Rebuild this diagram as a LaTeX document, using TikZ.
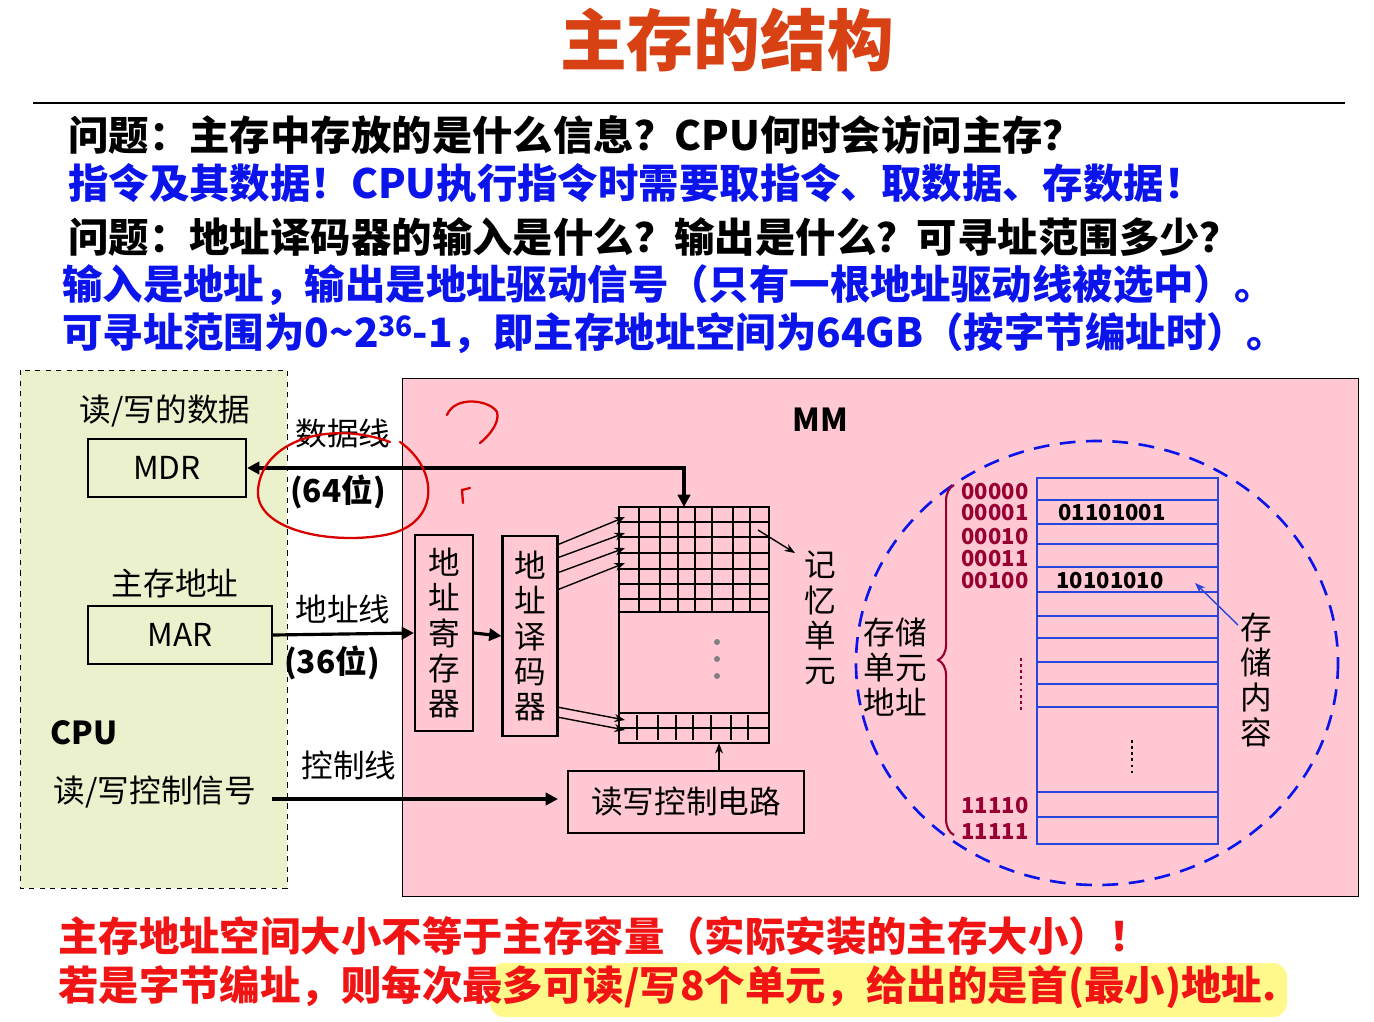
\documentclass[tikz,border=0pt]{standalone}
\usepackage{fontspec}
\setmainfont{Noto Sans CJK SC}
\usetikzlibrary{arrows.meta,decorations.pathreplacing}
\definecolor{titlered}{RGB}{215,65,20}
\definecolor{qblue}{RGB}{10,20,235}
\definecolor{cpugreen}{RGB}{236,241,205}
\definecolor{mmpink}{RGB}{255,200,210}
\definecolor{addrred}{RGB}{150,0,50}
\definecolor{warnred}{RGB}{240,20,20}
\definecolor{tblue}{RGB}{40,70,220}
\tikzset{
  big/.style={font=\fontsize{23}{26}\selectfont\bfseries, anchor=west, inner sep=0},
  lbl/.style={font=\fontsize{18}{20}\selectfont, inner sep=0},
  box/.style={draw, line width=1.2pt},
  vtext/.style={font=\fontsize{18}{20}\selectfont, align=center, inner sep=0},
  addr/.style={font=\fontsize{12.5}{13}\selectfont\bfseries, text=addrred, inner sep=0},
  wire/.style={line width=1.8pt, -{Triangle[length=7pt,width=7pt]}},
  thin/.style={line width=0.8pt, -{Stealth[length=6pt]}},
  pen/.style={red!85!black, line width=1.3pt, line cap=round},
}
\begin{document}
\begin{tikzpicture}[x=0.02cm, y=-0.02cm]
\useasboundingbox (0,0) rectangle (1374,1022);
% title
\node[font=\fontsize{38}{40}\selectfont\bfseries, text=titlered] (title) at (727,40) {主存的结构};
\draw[line width=1.5pt] (33,103) -- (1345,103);
\node[big] (q1) at (68,135) {问题：主存中存放的是什么信息？CPU何时会访问主存？};
\node[big, text=qblue] (a1) at (68,183) {指令及其数据！CPU执行指令时需要取指令、取数据、存数据！};
\node[big] (q2) at (68,237) {问题：地址译码器的输入是什么？输出是什么？可寻址范围多少？};
\node[big, text=qblue] (a2) at (62,285) {输入是地址，输出是地址驱动信号（只有一根地址驱动线被选中）。};
\node[big, text=qblue] (a3) at (62,333) {可寻址范围为0\textasciitilde2\raisebox{0.5ex}{\fontsize{16}{16}\selectfont 36}-1，即主存地址空间为64GB（按字节编址时）。};
% CPU and MM
\draw[dashed, fill=cpugreen] (20,370) rectangle (287,888);
\draw[fill=mmpink] (402,378) rectangle (1358,896);
\node[lbl] (rw) at (165,411) {读/写的数据};
\node[box, minimum width=158*0.02cm, minimum height=58*0.02cm, lbl] (mdr) at (167,468) {MDR};
\node[lbl] (ma) at (175,583) {主存地址};
\node[box, minimum width=184*0.02cm, minimum height=58*0.02cm, lbl] (mar) at (180,635) {MAR};
\node[lbl, font=\fontsize{18}{20}\selectfont\bfseries] (cpu) at (84,733) {CPU};
\node[lbl] (rwc) at (155,792) {读/写控制信号};
\node[lbl] (mm) at (820,420) {\bfseries MM};
% buses
\node[lbl] (dl) at (343,433) {数据线};
\node[lbl, font=\fontsize{18}{20}\selectfont\bfseries] (d64) at (338,492) {(64位)};
\node[lbl] (al) at (343,609) {地址线};
\node[lbl, font=\fontsize{18}{20}\selectfont\bfseries] (a36) at (332,663) {(36位)};
\node[lbl] (cl) at (349,765) {控制线};
% registers
\node[box, minimum width=58*0.02cm, minimum height=196*0.02cm, vtext] (areg) at (444,633) {地\\址\\寄\\存\\器};
\node[box, minimum width=55*0.02cm, minimum height=200*0.02cm, vtext] (adec) at (530,636) {地\\址\\译\\码\\器};
\node[box, minimum width=236*0.02cm, minimum height=62*0.02cm, lbl, inner sep=0] (rwctl) at (686,802) {读写控制电路};
% memory array
\coordinate (gtop) at (684,507);
\coordinate (gbot) at (719,743);
\draw[line width=1.2pt] (619,507) rectangle (769,743);
\draw[line width=1.2pt] (619,612) -- (769,612) (619,713) -- (769,713);
\foreach \y in {522,537,553,569,584,599} \draw[line width=0.9pt] (619,\y) -- (769,\y);
\foreach \x in {639,660,678,695,712,733,750} \draw[line width=0.9pt] (\x,507) -- (\x,612);
\draw[line width=0.9pt] (619,728) -- (769,728);
\foreach \x in {637,658,676,693,711,731,748} \draw[line width=0.9pt] (\x,715) -- (\x,740);
\foreach \y in {642,659,676} \fill[gray] (717,\y) circle (3);
\foreach \a/\b in {545/517,558/533,573/548,590/563,707/720,717/730}
  \draw[thin] (557,\a) -- (625,\b);
% connections
\draw[line width=1.8pt, {Triangle[length=7pt,width=7pt]}-{Triangle[length=7pt,width=7pt]}] (mdr.east) -- (684,468) -- (gtop);
\draw[wire] (mar.east) -- (areg.west);
\draw[wire] (areg.east) -- (adec.west);
\draw[wire] (272,799) -- (558,799);
\draw[thin] (rwctl.north -| gbot) -- (gbot);
\node[vtext] (cell) at (820,618) {记\\忆\\单\\元};
\draw[thin] (758,530) -- (795,553);
% zoomed view
\draw[qblue, dashed, line width=1.5pt, dash pattern=on 9pt off 6pt] (1097,663) ellipse (241 and 222);
\draw[tblue, line width=1.2pt] (1037,478) rectangle (1218,844);
\foreach \y in {500,524,544,567,592,616,638,662,684,707,792,817}
  \draw[tblue, line width=1pt] (1037,\y) -- (1218,\y);
\foreach \t/\y in {00000/492,00001/513,00010/537,00011/559,00100/581,11110/806,11111/832}
  \node[addr] (ad\t) at (995,\y) {\t};
\draw[addrred, line width=1.2pt, decorate, decoration={brace, amplitude=9pt}] (954,835) -- (954,485);
\node[vtext, align=left] (unitaddr) at (895,667) {存储\\单元\\地址};
\draw[addrred, line width=1.5pt, dotted] (1021,658) -- (1021,710);
\node[lbl, font=\fontsize{12.5}{13}\selectfont\bfseries] (c1) at (1112,513) {01101001};
\node[lbl, font=\fontsize{12.5}{13}\selectfont\bfseries] (c2) at (1110,581) {10101010};
\draw[line width=1.5pt, dotted] (1132,740) -- (1132,775);
\node[vtext] (content) at (1256,680) {存\\储\\内\\容};
\draw[tblue, thin] (1238,625) -- (1195,583);
% handwriting
\draw[pen] (390,442) .. controls (330,420) and (262,440) .. (258,490) .. controls (255,530) and (330,545) .. (385,535) .. controls (440,525) and (440,470) .. (400,442);
\draw[pen] (447,415) .. controls (455,395) and (490,400) .. (497,412) .. controls (500,422) and (490,435) .. (480,443);
\draw[pen] (463,503) -- (462,490) -- (470,488);
% bottom notes
\fill[yellow!45, rounded corners=8pt] (490,963) rectangle (1287,1017);
\node[big, text=warnred] (n1) at (58,936) {主存地址空间大小不等于主存容量（实际安装的主存大小）！};
\node[big, text=warnred] (n2) at (58,987) {若是字节编址，则每次最多可读/写8个单元，给出的是首(最小)地址.};
\end{tikzpicture}
\end{document}
